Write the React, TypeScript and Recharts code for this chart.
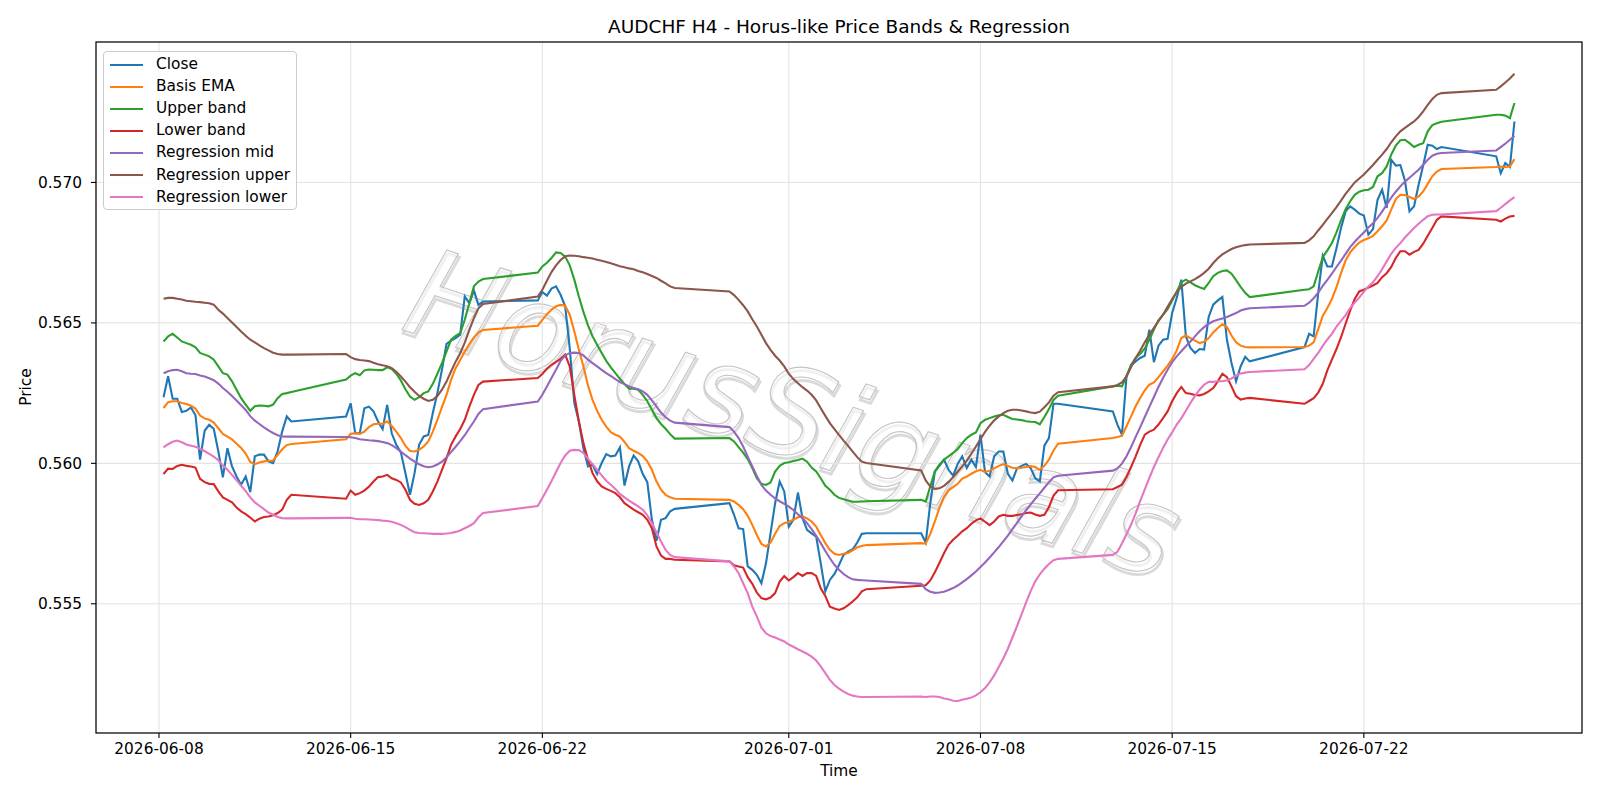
import { CartesianGrid, Line, LineChart, XAxis, YAxis } from "recharts";

// H4 bars (UTC): Sunday 20:00 open, Mon-Fri 00:00..20:00
const HOUR = 3600000;
const DAY = 24 * HOUR;
const FIRST_MONDAY = Date.UTC(2026, 5, 8);

function buildBarTimes(): number[] {
  const times: number[] = [];
  for (let w = 0; w < 7; w++) {
    const monday = FIRST_MONDAY + w * 7 * DAY;
    if (w > 0) times.push(monday - 4 * HOUR);
    for (let j = w === 0 ? 1 : 0; j < 30; j++) times.push(monday + j * 4 * HOUR);
  }
  const lastMonday = FIRST_MONDAY + 49 * DAY;
  times.push(lastMonday - 4 * HOUR);
  for (let j = 0; j < 4; j++) times.push(lastMonday + j * 4 * HOUR);
  return times;
}

const barTimes = buildBarTimes();

const tickDates = ["2026-06-08", "2026-06-15", "2026-06-22", "2026-07-01", "2026-07-08", "2026-07-15", "2026-07-22"];
const priceTicks = [0.555, 0.56, 0.565, 0.57];

// one row per week: Sunday bar first (except the first week), then Mon..Fri
const closePrice = [
  0.56235, 0.5631, 0.5623, 0.5623, 0.56183, 0.56187, 0.56199, 0.56171, 0.56013, 0.56116, 0.56137, 0.56123, 0.56043, 0.5595, 0.56054, 0.55989, 0.55953, 0.55924, 0.55953, 0.55898, 0.56025, 0.56031, 0.56031, 0.56007, 0.56001, 0.56043, 0.56114, 0.56167, 0.56149,
  0.56167, 0.56214, 0.56107, 0.56107, 0.56196, 0.56202, 0.56185, 0.56149, 0.56122, 0.56208, 0.56107, 0.56066, 0.56039, 0.55965, 0.55888, 0.55965, 0.56066, 0.56096, 0.56101, 0.56179, 0.5625, 0.56333, 0.56425, 0.56437, 0.56446, 0.56458, 0.56594, 0.5657, 0.56615, 0.56564, 0.56576,
  0.5658, 0.5661, 0.56597, 0.56622, 0.5663, 0.566, 0.56559, 0.5641, 0.56215, 0.56149, 0.56054, 0.55989, 0.55995, 0.55962, 0.56001, 0.56033, 0.56025, 0.56028, 0.56057, 0.55921, 0.55989, 0.56028, 0.56007, 0.55962, 0.55933, 0.55799, 0.55724, 0.55799, 0.55805, 0.55829, 0.55838,
  0.55858, 0.55817, 0.55769, 0.55766, 0.55633, 0.55621, 0.55603, 0.55573, 0.55644, 0.55751, 0.55858, 0.55935, 0.559, 0.55775, 0.55799, 0.55896, 0.55805, 0.55763, 0.55751, 0.55739, 0.55644, 0.55544, 0.55585, 0.55606, 0.55638, 0.55674, 0.55686, 0.55694, 0.55718, 0.55749, 0.55751,
  0.55751, 0.55718, 0.55858, 0.55971, 0.55991, 0.56013, 0.55977, 0.55956, 0.55998, 0.56025, 0.55983, 0.56013, 0.55987, 0.56102, 0.55968, 0.55953, 0.56025, 0.56042, 0.56042, 0.55963, 0.55939, 0.55982, 0.55991, 0.55998, 0.55983, 0.55947, 0.55936, 0.56063, 0.5609, 0.56212, 0.56212,
  0.56185, 0.56138, 0.56102, 0.5631, 0.56348, 0.56363, 0.56375, 0.56383, 0.56476, 0.5636, 0.56419, 0.5644, 0.56443, 0.56535, 0.56589, 0.56654, 0.56452, 0.56411, 0.56393, 0.56407, 0.56405, 0.56521, 0.56565, 0.5658, 0.56592, 0.5644, 0.56357, 0.56292, 0.56345, 0.56379, 0.56363,
  0.56414, 0.56461, 0.56452, 0.56606, 0.56739, 0.56701, 0.56701, 0.56766, 0.56838, 0.56897, 0.56915, 0.56903, 0.56889, 0.56882, 0.56814, 0.56834, 0.56938, 0.56974, 0.56909, 0.57081, 0.5706, 0.57062, 0.57007, 0.56897, 0.56915, 0.56992, 0.5706, 0.57134, 0.57131, 0.57119, 0.57126,
  0.57093, 0.57033, 0.57069, 0.57055, 0.57217,
];

const basisEma = [
  0.56197, 0.56218, 0.56221, 0.56221, 0.56215, 0.56211, 0.56205, 0.56195, 0.5617, 0.5616, 0.56155, 0.56145, 0.56125, 0.56105, 0.56095, 0.56085, 0.5607, 0.56055, 0.56035, 0.56005, 0.55997, 0.56003, 0.56007, 0.56009, 0.5601, 0.5603, 0.5605, 0.56065, 0.56069,
  0.56086, 0.56105, 0.56107, 0.56105, 0.56113, 0.56129, 0.56139, 0.56141, 0.56141, 0.56149, 0.56133, 0.56113, 0.5609, 0.56062, 0.56044, 0.56042, 0.56048, 0.5606, 0.56078, 0.56113, 0.56155, 0.562, 0.56244, 0.56297, 0.56339, 0.56368, 0.56398, 0.56425, 0.56448, 0.56466, 0.56475,
  0.5649, 0.56511, 0.56531, 0.56547, 0.56559, 0.56564, 0.56561, 0.56529, 0.5647, 0.56404, 0.56345, 0.56277, 0.56226, 0.56187, 0.56155, 0.56131, 0.56111, 0.56102, 0.56095, 0.56076, 0.56054, 0.56045, 0.56037, 0.56026, 0.56007, 0.55977, 0.55936, 0.55906, 0.55888, 0.55879, 0.55874,
  0.5587, 0.55864, 0.55852, 0.55837, 0.55813, 0.55781, 0.55745, 0.55713, 0.55704, 0.55718, 0.55749, 0.55777, 0.55787, 0.55792, 0.55799, 0.55808, 0.55811, 0.55804, 0.55793, 0.55775, 0.55745, 0.55716, 0.55692, 0.55678, 0.55674, 0.55678, 0.55681, 0.5569, 0.55701, 0.55706, 0.55709,
  0.55716, 0.55714, 0.55749, 0.55793, 0.55841, 0.5588, 0.55904, 0.55915, 0.55927, 0.55946, 0.55953, 0.55963, 0.55972, 0.55977, 0.55969, 0.55974, 0.55982, 0.55991, 0.55997, 0.55991, 0.55984, 0.55982, 0.55984, 0.55987, 0.5599, 0.55987, 0.55977, 0.55991, 0.56013, 0.56046, 0.5607,
  0.5609, 0.56094, 0.56098, 0.56132, 0.56167, 0.56203, 0.56233, 0.5626, 0.5628, 0.56288, 0.56307, 0.56327, 0.56348, 0.56371, 0.56402, 0.56446, 0.56455, 0.56446, 0.56437, 0.56428, 0.56433, 0.56446, 0.56466, 0.56482, 0.56495, 0.56485, 0.56455, 0.56431, 0.56419, 0.56414, 0.56413,
  0.56414, 0.56419, 0.56431, 0.56478, 0.56525, 0.56553, 0.56585, 0.56627, 0.56677, 0.56722, 0.56751, 0.5677, 0.56786, 0.56795, 0.56801, 0.5681, 0.56826, 0.56844, 0.56865, 0.56903, 0.56941, 0.56956, 0.56955, 0.56948, 0.56941, 0.5695, 0.56968, 0.56995, 0.57022, 0.57039, 0.57048,
  0.57055, 0.57057, 0.57055, 0.57057, 0.57083,
];

const upperBand = [
  0.56434, 0.56452, 0.56461, 0.56448, 0.56434, 0.56428, 0.56422, 0.56413, 0.56393, 0.56387, 0.56381, 0.56369, 0.56345, 0.56321, 0.56316, 0.56292, 0.56262, 0.56232, 0.56209, 0.56187, 0.56203, 0.56206, 0.56205, 0.56203, 0.56209, 0.56232, 0.56247, 0.5625, 0.56254,
  0.56298, 0.56312, 0.56321, 0.56314, 0.56331, 0.56334, 0.56333, 0.56332, 0.56332, 0.56342, 0.56336, 0.56319, 0.56295, 0.56264, 0.56238, 0.56226, 0.56236, 0.5625, 0.56256, 0.56283, 0.56319, 0.56357, 0.56398, 0.5644, 0.56454, 0.56463, 0.56511, 0.5657, 0.5663, 0.56647, 0.56656,
  0.56679, 0.56701, 0.56714, 0.56731, 0.56751, 0.56749, 0.56736, 0.56705, 0.56654, 0.56594, 0.56539, 0.56491, 0.56452, 0.56422, 0.56393, 0.56365, 0.56342, 0.56321, 0.56301, 0.56282, 0.56266, 0.56266, 0.56262, 0.56244, 0.56221, 0.56191, 0.56161, 0.5614, 0.56123, 0.56104, 0.56088,
  0.5609, 0.56078, 0.56058, 0.56038, 0.56015, 0.55983, 0.55947, 0.55927, 0.55923, 0.55932, 0.55971, 0.55991, 0.56001, 0.56004, 0.56008, 0.56012, 0.56017, 0.56006, 0.55985, 0.55971, 0.55947, 0.5592, 0.55906, 0.55888, 0.55877, 0.55872, 0.55868, 0.55863, 0.55863, 0.55864, 0.55865,
  0.5587, 0.55864, 0.55918, 0.55971, 0.55995, 0.56013, 0.56025, 0.56037, 0.56051, 0.56072, 0.5609, 0.56102, 0.5611, 0.56143, 0.56155, 0.56161, 0.56167, 0.56171, 0.56173, 0.56165, 0.56158, 0.56156, 0.56154, 0.5615, 0.56148, 0.56147, 0.56139, 0.56165, 0.56193, 0.56226, 0.56241,
  0.56274, 0.56276, 0.56274, 0.5631, 0.56351, 0.56375, 0.5639, 0.56409, 0.5644, 0.56476, 0.56509, 0.56529, 0.56549, 0.5658, 0.56612, 0.56644, 0.56654, 0.56644, 0.56634, 0.56627, 0.56621, 0.56642, 0.56666, 0.56678, 0.56685, 0.56687, 0.56675, 0.56652, 0.56628, 0.56607, 0.56592,
  0.56618, 0.5662, 0.5663, 0.56683, 0.56734, 0.56758, 0.56784, 0.56822, 0.56865, 0.56905, 0.56933, 0.56956, 0.56967, 0.56972, 0.56974, 0.56984, 0.57022, 0.57033, 0.57057, 0.57099, 0.57131, 0.5715, 0.57152, 0.5714, 0.57126, 0.57134, 0.5714, 0.57182, 0.57204, 0.57211, 0.57216,
  0.57241, 0.57241, 0.57238, 0.57229, 0.57283,
];

const lowerBand = [
  0.55962, 0.55981, 0.5598, 0.55991, 0.55995, 0.55991, 0.55989, 0.55985, 0.55945, 0.55933, 0.55927, 0.55926, 0.559, 0.55879, 0.5587, 0.55861, 0.55843, 0.55829, 0.55819, 0.55807, 0.55793, 0.55803, 0.55809, 0.55811, 0.55815, 0.55823, 0.55835, 0.5587, 0.55888,
  0.55874, 0.55903, 0.55888, 0.55894, 0.55903, 0.55917, 0.55935, 0.55951, 0.55953, 0.55959, 0.55947, 0.55941, 0.55932, 0.55906, 0.5587, 0.55856, 0.55852, 0.55858, 0.5587, 0.559, 0.55935, 0.55977, 0.56018, 0.56066, 0.56096, 0.56122, 0.56155, 0.56202, 0.56244, 0.56279, 0.56291,
  0.56304, 0.56318, 0.56337, 0.56351, 0.56361, 0.56372, 0.56387, 0.56345, 0.56244, 0.56149, 0.56072, 0.56013, 0.55965, 0.55936, 0.55918, 0.55909, 0.55902, 0.55894, 0.55879, 0.55858, 0.55847, 0.55835, 0.55826, 0.55817, 0.55799, 0.55769, 0.55704, 0.55672, 0.5566, 0.5566, 0.55657,
  0.55651, 0.55637, 0.55633, 0.55629, 0.55595, 0.55571, 0.5554, 0.5552, 0.55516, 0.55522, 0.55538, 0.55579, 0.55599, 0.55583, 0.55595, 0.55609, 0.55599, 0.55609, 0.55609, 0.55599, 0.55555, 0.55528, 0.5549, 0.55483, 0.55478, 0.55484, 0.55495, 0.55508, 0.55523, 0.55544, 0.55552,
  0.55564, 0.55566, 0.55583, 0.55612, 0.55645, 0.5568, 0.5571, 0.55728, 0.55742, 0.55758, 0.55769, 0.55785, 0.55797, 0.55804, 0.55792, 0.5578, 0.55793, 0.55811, 0.55817, 0.55813, 0.55813, 0.55816, 0.55819, 0.55823, 0.55825, 0.55818, 0.55813, 0.55817, 0.55844, 0.55885, 0.55904,
  0.55908, 0.55916, 0.55924, 0.55951, 0.55987, 0.56025, 0.56066, 0.56102, 0.56113, 0.5612, 0.56138, 0.56161, 0.56185, 0.56221, 0.5625, 0.56272, 0.5625, 0.56248, 0.56243, 0.56242, 0.56247, 0.56256, 0.56268, 0.56292, 0.56319, 0.56307, 0.56274, 0.56239, 0.56227, 0.56231, 0.56233,
  0.56212, 0.56222, 0.56232, 0.56252, 0.56283, 0.56331, 0.56369, 0.56407, 0.56449, 0.56497, 0.56544, 0.56585, 0.56612, 0.56618, 0.56626, 0.56633, 0.56642, 0.56663, 0.56677, 0.56699, 0.56731, 0.56755, 0.56755, 0.56743, 0.56753, 0.5676, 0.56782, 0.5681, 0.56838, 0.56867, 0.56879,
  0.56867, 0.56861, 0.56871, 0.56879, 0.56881,
];

const regressionMid = [
  0.56321, 0.56328, 0.56332, 0.56333, 0.56328, 0.56321, 0.56319, 0.56318, 0.56313, 0.56309, 0.56303, 0.56296, 0.56284, 0.56268, 0.56255, 0.5624, 0.56224, 0.56207, 0.5619, 0.56168, 0.56152, 0.5614, 0.56128, 0.56117, 0.56108, 0.561, 0.56096, 0.56095, 0.56095,
  0.56094, 0.56093, 0.5609, 0.56086, 0.56084, 0.56082, 0.56081, 0.56079, 0.56076, 0.56072, 0.56065, 0.56054, 0.56042, 0.56029, 0.56017, 0.56006, 0.55997, 0.5599, 0.55986, 0.55989, 0.55996, 0.56006, 0.56022, 0.5604, 0.56059, 0.56079, 0.561, 0.56125, 0.56149, 0.56176, 0.56193,
  0.5622, 0.56244, 0.56274, 0.56304, 0.56333, 0.56365, 0.56384, 0.56393, 0.56394, 0.56393, 0.56384, 0.56369, 0.56357, 0.56345, 0.56333, 0.56321, 0.56311, 0.563, 0.56289, 0.56282, 0.56274, 0.56268, 0.56264, 0.56256, 0.56244, 0.56224, 0.56203, 0.56181, 0.56164, 0.56152, 0.56145,
  0.56129, 0.56113, 0.5609, 0.5606, 0.56024, 0.55989, 0.55955, 0.55923, 0.55903, 0.55888, 0.55875, 0.55865, 0.55856, 0.55846, 0.55834, 0.55819, 0.55805, 0.55787, 0.55766, 0.55742, 0.55716, 0.55688, 0.55662, 0.55639, 0.55621, 0.55606, 0.55595, 0.55587, 0.55585, 0.55584, 0.55583,
  0.55571, 0.55552, 0.55543, 0.55539, 0.5554, 0.55543, 0.55549, 0.55556, 0.55565, 0.55576, 0.55588, 0.55601, 0.55615, 0.55631, 0.55647, 0.55665, 0.55683, 0.55702, 0.55722, 0.55743, 0.55766, 0.55788, 0.55811, 0.55833, 0.55854, 0.55874, 0.55893, 0.55913, 0.55933, 0.5595, 0.55956,
  0.55974, 0.55982, 0.55999, 0.56025, 0.56058, 0.56094, 0.56129, 0.56165, 0.56201, 0.56236, 0.56272, 0.56304, 0.56333, 0.5636, 0.56381, 0.56399, 0.56417, 0.56434, 0.56452, 0.5647, 0.56485, 0.56497, 0.56506, 0.56511, 0.56516, 0.56521, 0.56528, 0.56535, 0.56544, 0.56549, 0.56552,
  0.56561, 0.56572, 0.56588, 0.56608, 0.56632, 0.56653, 0.56675, 0.56699, 0.56722, 0.56746, 0.5677, 0.56789, 0.56806, 0.56822, 0.5684, 0.56855, 0.56874, 0.56896, 0.56921, 0.56946, 0.56967, 0.56986, 0.57003, 0.57017, 0.57031, 0.57045, 0.57063, 0.57081, 0.57095, 0.57102, 0.57105,
  0.57114, 0.57126, 0.57138, 0.57152, 0.57166,
];

const regressionUpper = [
  0.56586, 0.56589, 0.56589, 0.56586, 0.56583, 0.56579, 0.56577, 0.56575, 0.56574, 0.56572, 0.5657, 0.56565, 0.56547, 0.56533, 0.56517, 0.56501, 0.56485, 0.56469, 0.56454, 0.5644, 0.56431, 0.5642, 0.5641, 0.56402, 0.56394, 0.56389, 0.56387, 0.56387, 0.56387,
  0.56389, 0.56378, 0.56371, 0.56368, 0.56366, 0.56364, 0.56358, 0.56353, 0.56349, 0.56346, 0.56339, 0.56326, 0.56309, 0.56291, 0.56271, 0.56255, 0.5624, 0.5623, 0.56222, 0.56226, 0.5624, 0.56262, 0.56291, 0.56327, 0.56362, 0.56392, 0.5643, 0.56475, 0.56517, 0.56552, 0.56567,
  0.56594, 0.56618, 0.5665, 0.56681, 0.56705, 0.56724, 0.56737, 0.5674, 0.56739, 0.56737, 0.56734, 0.56732, 0.56729, 0.56725, 0.56721, 0.56717, 0.56712, 0.56707, 0.56702, 0.56698, 0.56694, 0.56691, 0.56685, 0.5668, 0.56674, 0.56667, 0.5666, 0.5665, 0.56641, 0.5663, 0.56624,
  0.56612, 0.56599, 0.56582, 0.56563, 0.56541, 0.56513, 0.56487, 0.56458, 0.56428, 0.56404, 0.56383, 0.56366, 0.56345, 0.56319, 0.563, 0.56285, 0.56271, 0.56259, 0.56244, 0.56224, 0.56196, 0.56169, 0.56143, 0.56122, 0.56101, 0.56081, 0.56062, 0.56042, 0.56022, 0.56006, 0.56001,
  0.55975, 0.55939, 0.55918, 0.55909, 0.55911, 0.5592, 0.55934, 0.55951, 0.5597, 0.55989, 0.5601, 0.56034, 0.5606, 0.56086, 0.56112, 0.56134, 0.56153, 0.56167, 0.56179, 0.56187, 0.56191, 0.56191, 0.56188, 0.56185, 0.56181, 0.56179, 0.56184, 0.562, 0.56217, 0.56241, 0.56253,
  0.56274, 0.56279, 0.56288, 0.5631, 0.56343, 0.56375, 0.56402, 0.56431, 0.56458, 0.56482, 0.56506, 0.56529, 0.56557, 0.56585, 0.56609, 0.56628, 0.5664, 0.56648, 0.56656, 0.56666, 0.56678, 0.56693, 0.56713, 0.5673, 0.56744, 0.56754, 0.56763, 0.56769, 0.56774, 0.56777, 0.56779,
  0.56785, 0.56794, 0.56808, 0.56829, 0.56849, 0.5687, 0.56891, 0.56912, 0.56935, 0.56959, 0.5698, 0.57, 0.57014, 0.57028, 0.57045, 0.57062, 0.57081, 0.57099, 0.57119, 0.57143, 0.57164, 0.57182, 0.57194, 0.57206, 0.57217, 0.57233, 0.57253, 0.57276, 0.57297, 0.57312, 0.57318,
  0.5733, 0.57342, 0.57356, 0.5737, 0.57387,
];

const regressionLower = [
  0.56057, 0.56068, 0.56077, 0.56081, 0.56075, 0.56067, 0.56063, 0.56059, 0.56052, 0.56044, 0.56034, 0.56024, 0.56011, 0.55992, 0.55977, 0.55959, 0.5594, 0.5592, 0.55901, 0.55879, 0.55861, 0.55849, 0.55837, 0.55825, 0.55817, 0.55809, 0.55805, 0.55804, 0.55804,
  0.55806, 0.55806, 0.55803, 0.55801, 0.55801, 0.558, 0.55799, 0.55798, 0.55796, 0.55795, 0.55792, 0.55787, 0.55781, 0.55773, 0.55763, 0.55755, 0.55752, 0.55751, 0.5575, 0.55749, 0.55749, 0.55749, 0.5575, 0.55752, 0.55756, 0.55761, 0.55769, 0.55777, 0.55787, 0.55808, 0.55823,
  0.55848, 0.55877, 0.55906, 0.55936, 0.55969, 0.56001, 0.56028, 0.56045, 0.56048, 0.56047, 0.56037, 0.56016, 0.55997, 0.55977, 0.55957, 0.55938, 0.55924, 0.55909, 0.55891, 0.55879, 0.55867, 0.55857, 0.55847, 0.55835, 0.55815, 0.55787, 0.55755, 0.55722, 0.55692, 0.55674, 0.55666,
  0.55651, 0.55633, 0.55609, 0.55573, 0.55538, 0.5549, 0.55455, 0.55415, 0.55395, 0.55385, 0.5538, 0.55373, 0.55366, 0.55355, 0.55347, 0.55338, 0.5533, 0.55322, 0.55312, 0.55298, 0.55277, 0.55253, 0.55229, 0.55211, 0.55198, 0.55187, 0.55179, 0.55173, 0.5517, 0.55168, 0.55168,
  0.5517, 0.55168, 0.5517, 0.5517, 0.55168, 0.55163, 0.5516, 0.55155, 0.55154, 0.55158, 0.55162, 0.55166, 0.55174, 0.55185, 0.552, 0.5522, 0.55245, 0.55275, 0.55305, 0.5534, 0.5538, 0.5542, 0.55462, 0.55505, 0.55545, 0.5558, 0.55605, 0.55625, 0.55642, 0.55655, 0.5566,
  0.55674, 0.55685, 0.55715, 0.55748, 0.55782, 0.55822, 0.55866, 0.55907, 0.55948, 0.55987, 0.56022, 0.56055, 0.56085, 0.5611, 0.56138, 0.5616, 0.56187, 0.56215, 0.5624, 0.56262, 0.5628, 0.5629, 0.5629, 0.56292, 0.56292, 0.56295, 0.56302, 0.56312, 0.5632, 0.56323, 0.56325,
  0.56335, 0.5635, 0.56372, 0.56393, 0.56418, 0.56441, 0.56461, 0.56487, 0.56507, 0.56528, 0.56553, 0.56572, 0.5659, 0.56611, 0.5663, 0.56645, 0.56666, 0.56691, 0.56719, 0.56746, 0.56767, 0.56784, 0.56804, 0.56821, 0.56838, 0.56853, 0.56867, 0.5688, 0.56885, 0.56886, 0.56886,
  0.56898, 0.5691, 0.56923, 0.56936, 0.56948,
];

const series = [
  { key: "close", name: "Close", color: "#1f77b4", values: closePrice },
  { key: "basis", name: "Basis EMA", color: "#ff7f0e", values: basisEma },
  { key: "upper", name: "Upper band", color: "#2ca02c", values: upperBand },
  { key: "lower", name: "Lower band", color: "#d62728", values: lowerBand },
  { key: "regMid", name: "Regression mid", color: "#9467bd", values: regressionMid },
  { key: "regUpper", name: "Regression upper", color: "#8c564b", values: regressionUpper },
  { key: "regLower", name: "Regression lower", color: "#e377c2", values: regressionLower },
];

const rows = barTimes.map((t, i) => {
  const row: Record<string, number> = { t };
  series.forEach((s) => {
    row[s.key] = s.values[i];
  });
  return row;
});

const W = 1600;
const H = 800;
const PLOT = { left: 96, top: 42, right: 1582, bottom: 733 };
const FONT = "'DejaVu Sans', 'Liberation Sans', sans-serif";

const first = barTimes[0];
const last = barTimes[barTimes.length - 1];
const pad = (last - first) * 0.05;
const xDomain = [first - pad, last + pad];
const xTicks = tickDates.map((d) => Date.parse(d + "T00:00:00Z"));

const fmtDate = (v: number) => new Date(v).toISOString().slice(0, 10);

// faint outlined brand text behind the plot
function Watermark() {
  const text = "HorusSignals";
  const common = {
    x: 0,
    y: 0,
    textAnchor: "middle" as const,
    fontFamily: FONT,
    fontStyle: "italic",
    fontSize: 123,
  };
  return (
    <svg width={W} height={H} style={{ position: "absolute", left: 0, top: 0 }}>
      <g transform="translate(780 454) rotate(18.2)">
        <text {...common} transform="translate(2 3)" fill="none" stroke="#dadada" strokeWidth={2.8}>
          {text}
        </text>
        <text {...common} fill="#ffffff" fillOpacity={0.6} stroke="#c4c4c4" strokeWidth={1.1}>
          {text}
        </text>
      </g>
    </svg>
  );
}

function LegendBox() {
  return (
    <div
      style={{
        position: "absolute",
        left: 103,
        top: 51,
        width: 194,
        height: 159,
        boxSizing: "border-box",
        border: "1px solid #cccccc",
        borderRadius: 4,
        background: "rgba(255,255,255,0.8)",
        fontFamily: FONT,
        fontSize: 15.4,
        color: "#000",
      }}
    >
      {series.map((s, i) => (
        <div key={s.key} style={{ position: "absolute", left: 0, top: 12.5 + i * 22.1, height: 0 }}>
          <span
            style={{
              position: "absolute",
              left: 6,
              top: -1,
              width: 33,
              height: 2.1,
              background: s.color,
            }}
          />
          <span style={{ position: "absolute", left: 52, top: -9.5, whiteSpace: "nowrap", lineHeight: "18px" }}>
            {s.name}
          </span>
        </div>
      ))}
    </div>
  );
}

export default function App() {
  const tickStyle = { fill: "#000", fontSize: 15.4, fontFamily: FONT };
  return (
    <div style={{ position: "absolute", left: 0, top: 0, width: W, height: H, background: "#fff", overflow: "hidden" }}>
      <Watermark />
      <div style={{ position: "absolute", left: 0, top: 0 }}>
        <LineChart
          width={W}
          height={H}
          data={rows}
          margin={{ top: PLOT.top, right: W - PLOT.right, bottom: 0, left: 0 }}
        >
          <CartesianGrid stroke="#e3e3e3" strokeWidth={1.1} />
          <XAxis
            dataKey="t"
            type="number"
            scale="linear"
            domain={xDomain}
            allowDataOverflow
            ticks={xTicks}
            interval={0}
            tickFormatter={fmtDate}
            height={H - PLOT.bottom}
            axisLine={false}
            tickLine={{ stroke: "#000", strokeWidth: 1.1 }}
            tickSize={5}
            tickMargin={5}
            tick={tickStyle}
          />
          <YAxis
            type="number"
            domain={[0.5504, 0.575]}
            allowDataOverflow
            ticks={priceTicks}
            interval={0}
            tickFormatter={(v: number) => v.toFixed(3)}
            width={PLOT.left}
            axisLine={false}
            tickLine={{ stroke: "#000", strokeWidth: 1.1 }}
            tickSize={5}
            tickMargin={9}
            tick={tickStyle}
          />
          {series.map((s) => (
            <Line
              key={s.key}
              type="linear"
              dataKey={s.key}
              name={s.name}
              stroke={s.color}
              strokeWidth={2.1}
              dot={false}
              activeDot={false}
              isAnimationActive={false}
            />
          ))}
        </LineChart>
      </div>
      <svg width={W} height={H} style={{ position: "absolute", left: 0, top: 0, pointerEvents: "none" }}>
        <rect
          x={PLOT.left}
          y={PLOT.top}
          width={PLOT.right - PLOT.left}
          height={PLOT.bottom - PLOT.top}
          fill="none"
          stroke="#000"
          strokeWidth={1.2}
        />
        <text x={(PLOT.left + PLOT.right) / 2} y={33} textAnchor="middle" fontFamily={FONT} fontSize={18.5} fill="#000">
          AUDCHF H4 - Horus-like Price Bands &amp; Regression
        </text>
        <text x={(PLOT.left + PLOT.right) / 2} y={776} textAnchor="middle" fontFamily={FONT} fontSize={15.4} fill="#000">
          Time
        </text>
        <text
          x={31}
          y={387}
          transform="rotate(-90 31 387)"
          textAnchor="middle"
          fontFamily={FONT}
          fontSize={15.4}
          fill="#000"
        >
          Price
        </text>
      </svg>
      <LegendBox />
    </div>
  );
}
